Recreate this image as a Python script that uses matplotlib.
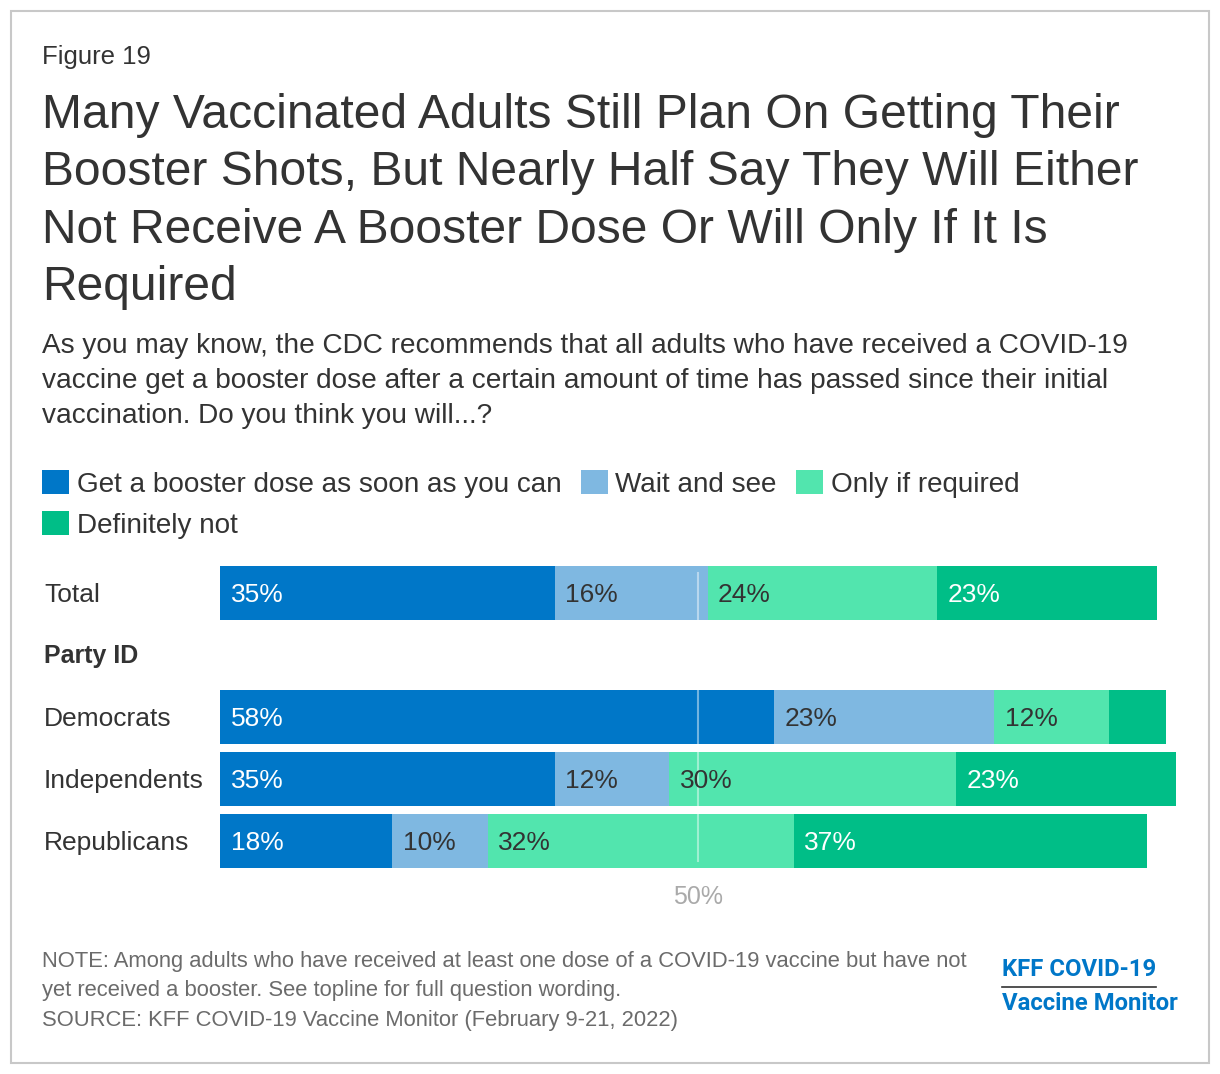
import matplotlib
matplotlib.use("Agg")
import matplotlib.pyplot as plt
from matplotlib.patches import Rectangle, Patch

plt.rcParams["font.family"] = ["Liberation Sans", "DejaVu Sans"]

# ── Data ─────────────────────────────────────────────────────────────────
rows = ["Total", "Party ID", "Democrats", "Independents", "Republicans"]
is_header = [False, True, False, False, False]
series = ["Get a booster dose as soon as you can", "Wait and see",
          "Only if required", "Definitely not"]
asap = [35, None, 58, 35, 18]
wait = [16, None, 23, 12, 10]
only_req = [24, None, 12, 30, 32]
def_not = [23, None, 6, 23, 37]
shown = [[True] * 4, None, [True, True, True, False], [True] * 4, [True] * 4]

colors = ["#0077C8", "#7FB8E1", "#52E5AE", "#00BE87"]
label_colors = ["white", "#333333", "#333333", "white"]
TXT = "#333333"

W, H = 1220, 1074
fig = plt.figure(figsize=(W / 100, H / 100), dpi=100)
fig.patch.set_facecolor("white")


def fx(px):
    return px / W


def fy(py):
    return 1 - py / H


# Border
fig.add_artist(Rectangle((fx(11), fy(1063)), fx(1198), (1052) / H,
                         transform=fig.transFigure, fill=False,
                         edgecolor="#c8c8c8", lw=1.5))

# ── Header texts ─────────────────────────────────────────────────────────
fig.text(fx(42), fy(57), "Figure 19", fontsize=18.5, color=TXT, va="center")
title = ("Many Vaccinated Adults Still Plan On Getting Their\n"
         "Booster Shots, But Nearly Half Say They Will Either\n"
         "Not Receive A Booster Dose Or Will Only If It Is\n"
         "Required")
fig.text(fx(42), fy(93), title, fontsize=34.6, color=TXT, va="top",
         linespacing=1.355)
subtitle = ("As you may know, the CDC recommends that all adults who have received a COVID-19\n"
            "vaccine get a booster dose after a certain amount of time has passed since their initial\n"
            "vaccination. Do you think you will...?")
fig.text(fx(42), fy(333), subtitle, fontsize=20.2, color=TXT, va="top",
         linespacing=1.46)

# ── Legend ───────────────────────────────────────────────────────────────
handles = [Patch(facecolor=c, edgecolor="none") for c in colors]
order = [0, 3, 1, 2]
fig.legend([handles[i] for i in order], [series[i] for i in order],
           loc="upper left", bbox_to_anchor=(fx(42), fy(470)), ncol=3,
           frameon=False, fontsize=20.1, labelcolor=TXT,
           handlelength=0.96, handleheight=0.96, handletextpad=0.28,
           columnspacing=0.7, labelspacing=0.48, borderpad=0.0,
           borderaxespad=0.0)

# ── Bars ─────────────────────────────────────────────────────────────────
ax = fig.add_axes([fx(220), fy(872), fx(1176) - fx(220), 310 / H])
ax.set_xlim(0, 100)
ax.set_ylim(4.5, -0.5)
ax.axis("off")

values = [asap, wait, only_req, def_not]
for i, row in enumerate(rows):
    if is_header[i]:
        fig.text(fx(44), fy(656), row, fontsize=18, fontweight="bold",
                 color=TXT, va="center")
        continue
    ax.text(-18.4, i + 0.03, row, fontsize=19, color=TXT, va="center",
            ha="left")
    left = 0
    for k in range(4):
        v = values[k][i]
        ax.barh(i, v, left=left, height=0.87, color=colors[k], lw=0)
        if shown[i][k]:
            ax.text(left + 1.1, i + 0.03, f"{v}%", fontsize=19,
                    color=label_colors[k], va="center", ha="left", zorder=5)
        left += v

ax.axvline(50, ymin=0.035, ymax=0.965, color="white", alpha=0.45, lw=1.5,
           zorder=4)
ax.text(50, 4.9, "50%", fontsize=18, color="#aaaaaa", ha="center",
        va="center", clip_on=False)

# ── Footer ───────────────────────────────────────────────────────────────
note = ("NOTE: Among adults who have received at least one dose of a COVID-19 vaccine but have not\n"
        "yet received a booster. See topline for full question wording.\n"
        "SOURCE: KFF COVID-19 Vaccine Monitor (February 9-21, 2022)")
fig.text(fx(42), fy(951), note, fontsize=15.8, color="#6b6b6b", va="top",
         linespacing=1.52)

blue = "#0077C8"
fig.text(fx(1002), fy(969), "KFF COVID-19", fontsize=17.2, fontweight="bold",
         color=blue, va="center", ha="left", family="Roboto")
fig.add_artist(plt.Line2D([fx(1002), fx(1156)], [fy(987), fy(987)],
                          transform=fig.transFigure, color="#333333", lw=1.2))
fig.text(fx(1002), fy(1003), "Vaccine Monitor", fontsize=17.2,
         fontweight="bold", color=blue, va="center", ha="left",
         family="Roboto")

fig.savefig("out.png", dpi=100, facecolor="white")
